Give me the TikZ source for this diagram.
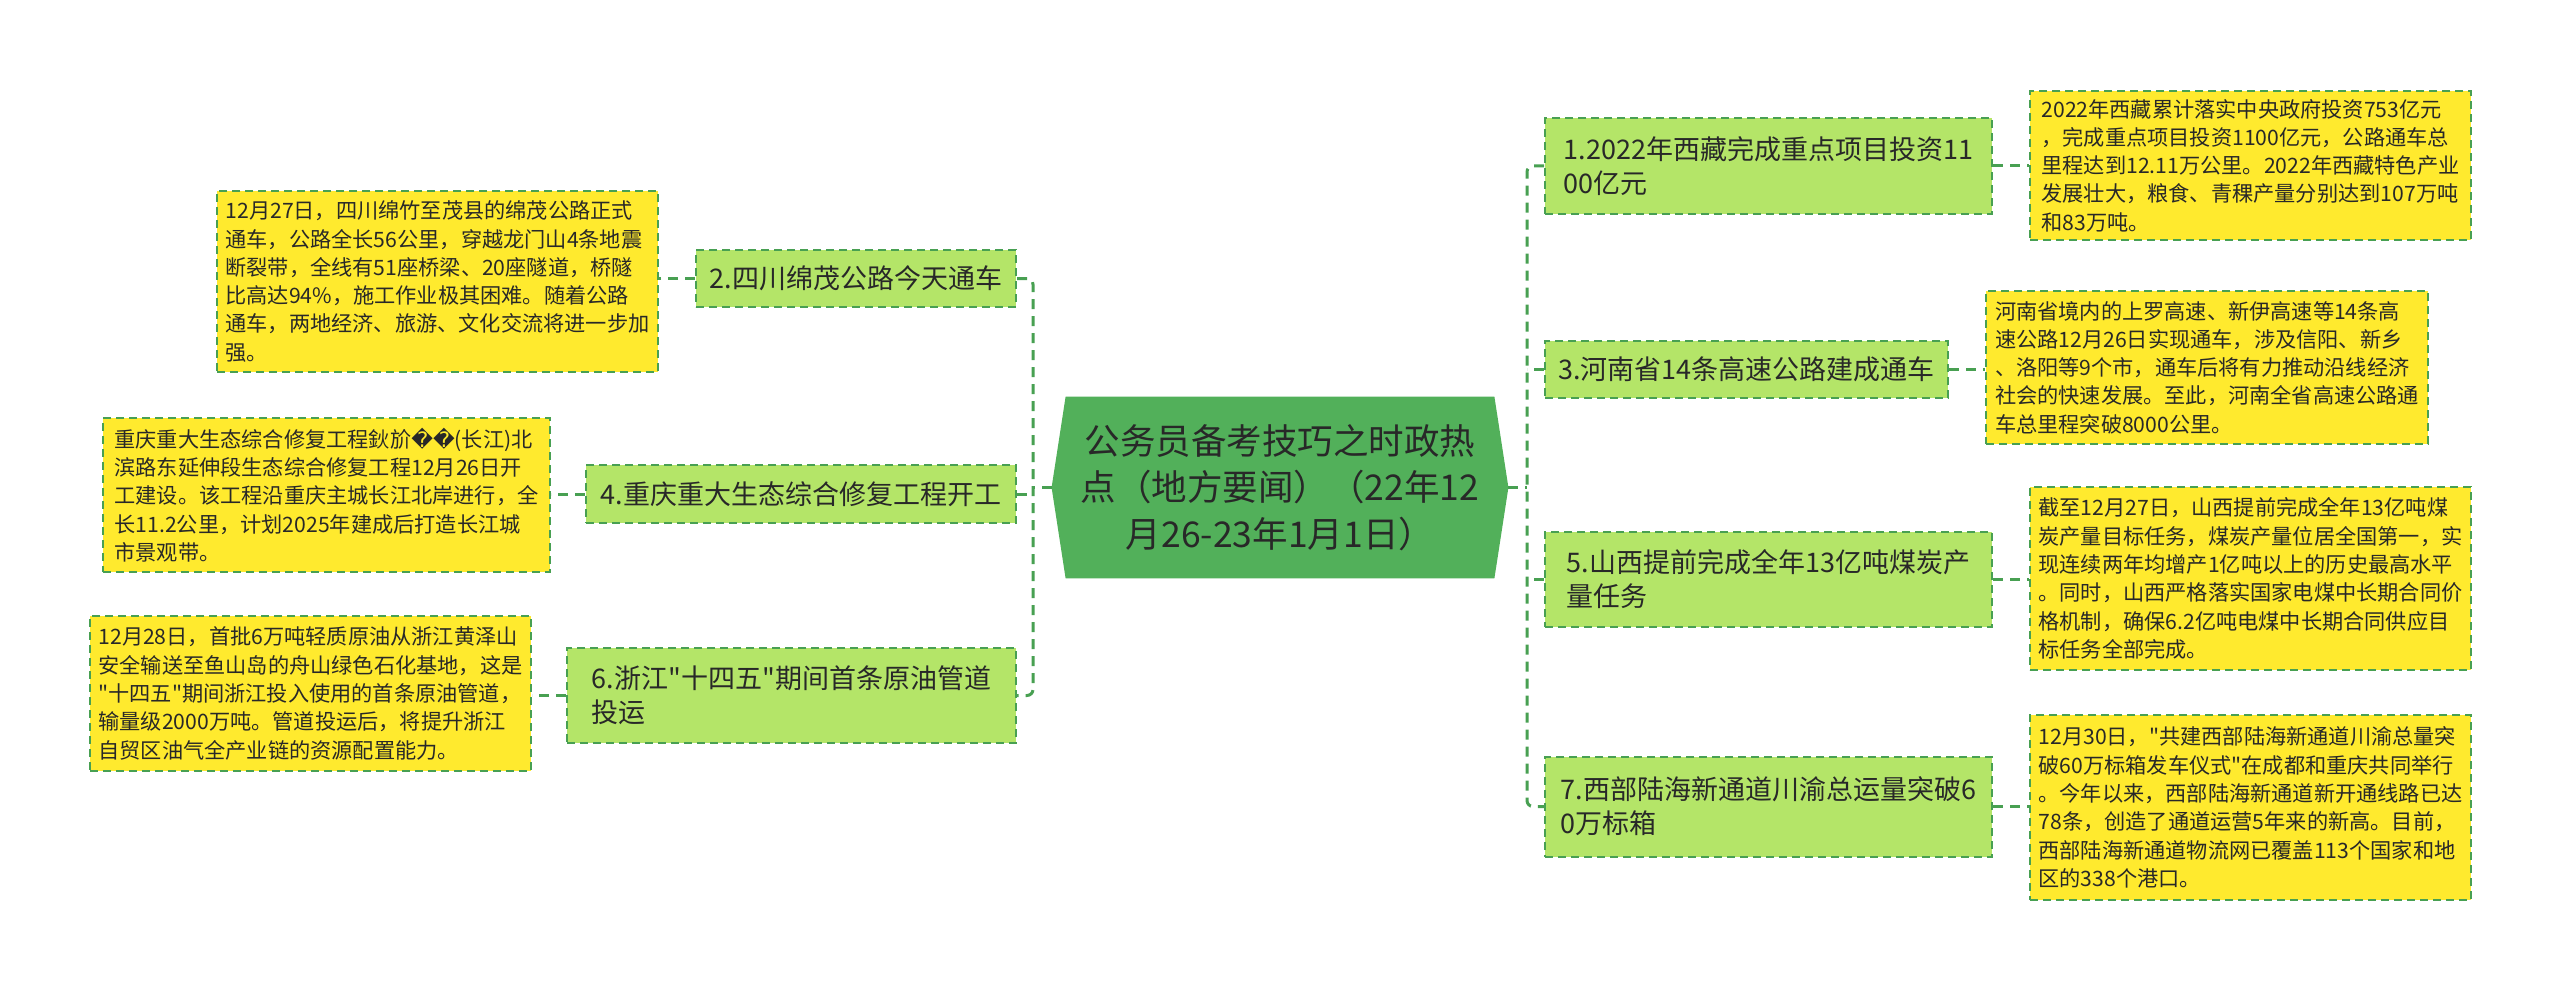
\documentclass[tikz,border=0pt]{standalone}
\usepackage{fontspec}
\setmainfont{Noto Sans CJK SC}
\newfontfamily\dvfont{DejaVu Sans}
\newfontfamily\qfont{Noto Sans CJK SC}
\newcommand{\sq}{{\qfont\symbol{34}}}
\definecolor{cgreen}{RGB}{82,176,90}
\definecolor{ngreen}{RGB}{180,229,104}
\definecolor{yel}{RGB}{255,234,46}
\definecolor{bord}{RGB}{72,160,82}
\definecolor{txt}{RGB}{40,40,40}
\begin{document}
\begin{tikzpicture}[x=0.5pt,y=-0.5pt,
  sub/.style={draw=bord, dash pattern=on 4pt off 2.5pt, line width=1pt, fill=ngreen,
    align=left, text=txt, inner sep=0pt, font=\fontsize{13.5}{17}\selectfont},
  note/.style={draw=bord, dash pattern=on 4pt off 2.5pt, line width=1pt, fill=yel,
    align=left, text=txt, inner sep=0pt, font=\fontsize{10.6}{14.15}\selectfont},
  conn/.style={draw=bord, line width=1.5pt, dash pattern=on 5pt off 3.5pt, rounded corners=3pt}]
\useasboundingbox (0,0) rectangle (2560,990);
\fill[white] (0,0) rectangle (2560,990);

% central topic
\node[minimum width=228pt, minimum height=90.5pt, inner sep=0pt] (c) at (1280,487.5) {};
\fill[cgreen] (c.west) -- ([xshift=7pt]c.north west) -- ([xshift=-7pt]c.north east)
  -- (c.east) -- ([xshift=-7pt]c.south east) -- ([xshift=7pt]c.south west) -- cycle;
\node[align=center, text=txt, font=\fontsize{17.75}{23.3}\selectfont] (ct) at (c.center)
  {公务员备考技巧之时政热\\点（地方要闻）（22年12\\月26-23年1月1日）};

% left branches
\node[sub, minimum width=160pt, minimum height=28.5pt] (n2) at (856,278.5) {2.四川绵茂公路今天通车};
\node[sub, minimum width=215pt, minimum height=29pt] (n4) at (801,494) {4.重庆重大生态综合修复工程开工};
\node[sub, minimum width=224.5pt, minimum height=47.5pt] (n6) at (791.5,695.5) {6.浙江\sq 十四五\sq 期间首条原油管道\\投运};

\node[note, minimum width=220.5pt, minimum height=90.5pt] (a2) at (437.5,281.5)
 {12月27日，四川绵竹至茂县的绵茂公路正式\\通车，公路全长56公里，穿越龙门山4条地震\\断裂带，全线有51座桥梁、20座隧道，桥隧\\比高达94\%，施工作业极其困难。随着公路\\通车，两地经济、旅游、文化交流将进一步加\\强。};
\node[note, minimum width=223.5pt, minimum height=77pt] (a4) at (326.5,495)
 {重庆重大生态综合修复工程鈥斺{\dvfont ��}(长江)北\\滨路东延伸段生态综合修复工程12月26日开\\工建设。该工程沿重庆主城长江北岸进行，全\\长11.2公里，计划2025年建成后打造长江城\\市景观带。};
\node[note, minimum width=220.5pt, minimum height=77.5pt] (a6) at (310.5,693.5)
 {12月28日，首批6万吨轻质原油从浙江黄泽山\\安全输送至鱼山岛的舟山绿色石化基地，这是\\\sq 十四五\sq 期间浙江投入使用的首条原油管道，\\输量级2000万吨。管道投运后，将提升浙江\\自贸区油气全产业链的资源配置能力。};

% right branches
\node[sub, minimum width=223.5pt, minimum height=48pt] (n1) at (1768.5,166) {1.2022年西藏完成重点项目投资11\\00亿元};
\node[sub, minimum width=201.5pt, minimum height=28.5pt] (n3) at (1746.5,369.5) {3.河南省14条高速公路建成通车};
\node[sub, minimum width=223.5pt, minimum height=47.5pt] (n5) at (1768.5,579.5) {5.山西提前完成全年13亿吨煤炭产\\量任务};
\node[sub, minimum width=223.5pt, minimum height=50pt] (n7) at (1768.5,806.5) {7.西部陆海新通道川渝总运量突破6\\0万标箱};

\node[note, minimum width=220.5pt, minimum height=74.5pt] (b1) at (2250.5,165.5)
 {2022年西藏累计落实中央政府投资753亿元\\，完成重点项目投资1100亿元，公路通车总\\里程达到12.11万公里。2022年西藏特色产业\\发展壮大，粮食、青稞产量分别达到107万吨\\和83万吨。};
\node[note, minimum width=221pt, minimum height=76.5pt] (b3) at (2207,367.5)
 {河南省境内的上罗高速、新伊高速等14条高\\速公路12月26日实现通车，涉及信阳、新乡\\、洛阳等9个市，通车后将有力推动沿线经济\\社会的快速发展。至此，河南全省高速公路通\\车总里程突破8000公里。};
\node[note, minimum width=220.5pt, minimum height=91.5pt] (b5) at (2250.5,578.5)
 {截至12月27日，山西提前完成全年13亿吨煤\\炭产量目标任务，煤炭产量位居全国第一，实\\现连续两年均增产1亿吨以上的历史最高水平\\。同时，山西严格落实国家电煤中长期合同价\\格机制，确保6.2亿吨电煤中长期合同供应目\\标任务全部完成。};
\node[note, minimum width=220.5pt, minimum height=92.5pt] (b7) at (2250.5,807.5)
 {12月30日，\sq 共建西部陆海新通道川渝总量突\\破60万标箱发车仪式\sq 在成都和重庆共同举行\\。今年以来，西部陆海新通道新开通线路已达\\78条，创造了通道运营5年来的新高。目前，\\西部陆海新通道物流网已覆盖113个国家和地\\区的338个港口。};

% trunks
\coordinate (lt) at (1033,487.5);
\coordinate (rt) at (1527,487.5);
\draw[conn] (n2.east) -| (lt) |- (n6.east);
\draw[conn] (c.west) -- (lt);
\draw[conn] (n4.east) -- (n4.east -| lt);
\draw[conn] (n1.west) -| (rt) |- (n7.west);
\draw[conn] (c.east) -- (rt);
\draw[conn] (n3.west) -- (n3.west -| rt);
\draw[conn] (n5.west) -- (n5.west -| rt);

% leaf connectors
\draw[conn] (n2.west) -- (n2.west -| a2.east);
\draw[conn] (n4.west) -- (n4.west -| a4.east);
\draw[conn] (n6.west) -- (n6.west -| a6.east);
\draw[conn] (n1.east) -- (n1.east -| b1.west);
\draw[conn] (n3.east) -- (n3.east -| b3.west);
\draw[conn] (n5.east) -- (n5.east -| b5.west);
\draw[conn] (n7.east) -- (n7.east -| b7.west);
\end{tikzpicture}
\end{document}
